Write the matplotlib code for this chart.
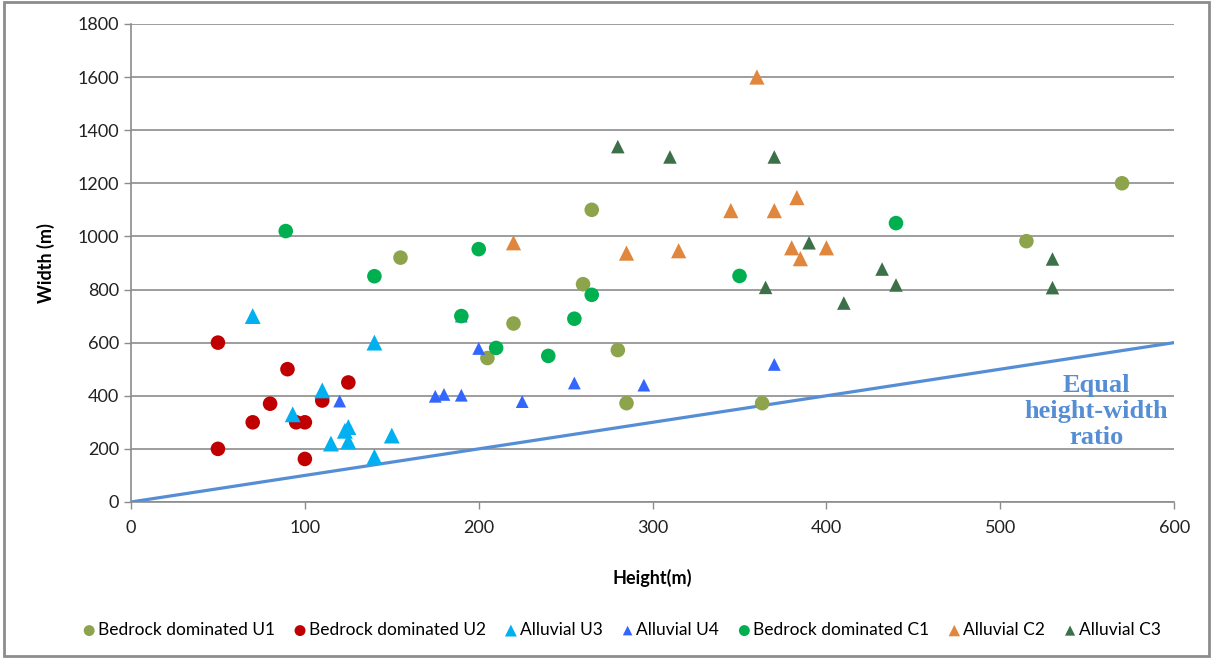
import numpy as np
import matplotlib.pyplot as plt
from matplotlib.patches import Rectangle

# -----------------------------
# Data (height, width in m)
# -----------------------------
u1_height = [155, 265, 260, 220, 205, 280, 285, 363, 515, 570]
u1_width = [920, 1100, 820, 672, 542, 572, 372, 372, 982, 1200]

u2_height = [50, 50, 70, 80, 90, 95, 100, 100, 110, 125]
u2_width = [600, 200, 300, 370, 500, 300, 300, 162, 382, 450]

u3_height = [70, 93, 110, 115, 123, 125, 125, 140, 140, 150]
u3_width = [700, 330, 420, 220, 268, 282, 228, 600, 170, 250]

u4_height = [120, 175, 180, 190, 190, 200, 225, 255, 295, 370]
u4_width = [380, 398, 405, 402, 700, 578, 378, 448, 440, 518]

c1_height = [89, 140, 190, 200, 210, 240, 255, 265, 350, 440]
c1_width = [1020, 850, 700, 952, 580, 550, 690, 780, 851, 1050]

c2_height = [220, 285, 315, 345, 360, 370, 380, 383, 385, 400]
c2_width = [976, 937, 946, 1097, 1600, 1097, 957, 1146, 916, 957]

c3_height = [280, 310, 370, 365, 390, 410, 432, 440, 530, 530]
c3_width = [1338, 1299, 1299, 808, 976, 749, 877, 817, 915, 807]

eq_height = [0, 600]
eq_width = [0, 600]

x_ticks = [0, 100, 200, 300, 400, 500, 600]
y_ticks = [0, 200, 400, 600, 800, 1000, 1200, 1400, 1600, 1800]

plt.rcParams['font.family'] = ['Lato', 'DejaVu Sans']

fig = plt.figure(figsize=(12.13, 6.64), dpi=100)
ax = fig.add_axes([0.108, 0.244, 0.860, 0.720])

# outer chart border
fig.patches.append(Rectangle((0.003, 0.012), 0.994, 0.985, transform=fig.transFigure,
                             fill=False, edgecolor='#8c8c8c', linewidth=2.0))

ax.plot(eq_height, eq_width, color='#558ED5', linewidth=2.3, zorder=2)

series = [
    (u1_height, u1_width, 'o', '#8DA44C', 110, 'Bedrock dominated U1'),
    (u2_height, u2_width, 'o', '#C00000', 110, 'Bedrock dominated U2'),
    (u3_height, u3_width, '^', '#00B0F0', 130, 'Alluvial U3'),
    (u4_height, u4_width, '^', '#3366FF', 85, 'Alluvial U4'),
    (c1_height, c1_width, 'o', '#00B050', 110, 'Bedrock dominated C1'),
    (c2_height, c2_width, '^', '#E0873D', 120, 'Alluvial C2'),
    (c3_height, c3_width, '^', '#3B7048', 95, 'Alluvial C3'),
]
for xs, ys, mk, col, sz, lab in series:
    ax.scatter(xs, ys, marker=mk, s=sz, color=col, edgecolors='none', label=lab, zorder=3)

ax.text(0.925, 0.19, 'Equal\nheight-width\nratio', transform=ax.transAxes,
        ha='center', va='center', color='#558ED5', fontsize=19, fontweight='bold',
        family='Liberation Serif', linespacing=1.17)

ax.set_xlim(0, 600)
ax.set_ylim(0, 1800)
ax.set_xticks(x_ticks)
ax.set_yticks(y_ticks)
ax.tick_params(axis='both', labelsize=13, colors='#8c8c8c', labelcolor='#222222',
               length=5, width=1)
ax.tick_params(axis='x', pad=8)
ax.grid(axis='y', color='#8c8c8c', linewidth=1.2)
ax.set_axisbelow(True)
for side in ['top', 'right']:
    ax.spines[side].set_visible(False)
for side in ['left', 'bottom']:
    ax.spines[side].set_color('#8c8c8c')
    ax.spines[side].set_linewidth(1.2)

ax.set_xlabel('Height(m)', fontsize=13, fontweight='bold', labelpad=24)
ax.set_ylabel('Width (m)', fontsize=13, fontweight='bold', labelpad=16)

fig.legend(loc='center', bbox_to_anchor=(0.512, 0.051), ncol=7, frameon=False,
           fontsize=12.5, handletextpad=0.05, handlelength=0.9, columnspacing=1.0,
           markerscale=0.75, borderaxespad=0)

fig.savefig('out.png', dpi=100)
